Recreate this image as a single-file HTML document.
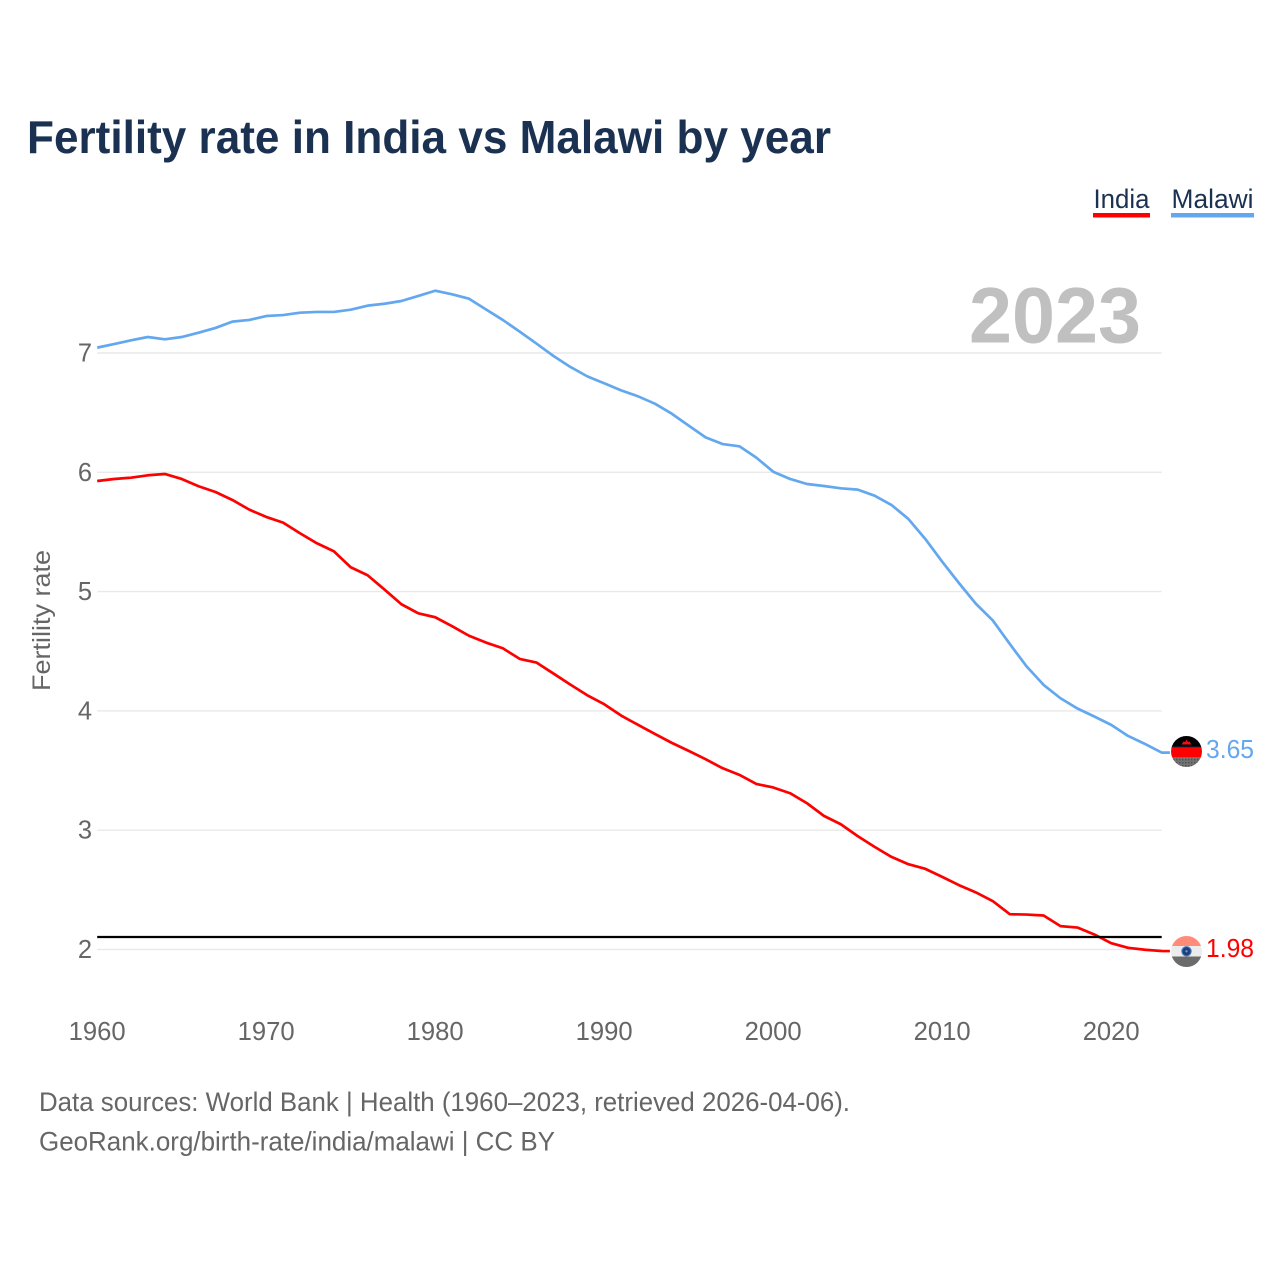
<!DOCTYPE html>
<html lang="en">
<head>
<meta charset="utf-8">
<title>Fertility rate in India vs Malawi by year</title>
<style>
html,body{margin:0;padding:0;background:#fff;}
svg{display:block;font-family:"Liberation Sans",Arial,sans-serif;}
</style>
</head>
<body>
<svg id="chart" xmlns="http://www.w3.org/2000/svg" width="1280" height="1280" viewBox="0 0 1280 1280">
  <rect width="1280" height="1280" fill="#fff"/>
  <text x="27" y="153" font-size="46" font-weight="700" fill="#1b3152" textLength="804" lengthAdjust="spacingAndGlyphs">Fertility rate in India vs Malawi by year</text>

  <g>
    <text x="1093.5" y="208" font-size="27" fill="#1b3152" textLength="56" lengthAdjust="spacingAndGlyphs">India</text>
    <rect x="1093" y="213" width="57" height="4.5" fill="#ff0000"/>
  </g>
  <g>
    <text x="1171.5" y="208" font-size="27" fill="#1b3152" textLength="82" lengthAdjust="spacingAndGlyphs">Malawi</text>
    <rect x="1171" y="213" width="83" height="4.5" fill="#63a8ef"/>
  </g>

  <text x="969" y="342.5" font-size="79" font-weight="700" fill="#c0c0c0" textLength="172" lengthAdjust="spacingAndGlyphs">2023</text>

  <g id="grid"></g>
  <g id="yticks"></g>
  <g id="xticks"></g>

  <text transform="translate(50,691) rotate(-90)" x="0" y="0" font-size="25" fill="#666" textLength="141" lengthAdjust="spacingAndGlyphs">Fertility rate</text>

  <g id="series"></g>

  <defs>
    <clipPath id="flag-clip-mw"><circle cx="1186.5" cy="751.5" r="15.5"/></clipPath>
    <clipPath id="flag-clip-in"><circle cx="1186.5" cy="951.5" r="15.5"/></clipPath>
    <pattern id="flag-dots" width="3" height="3" patternUnits="userSpaceOnUse">
      <rect width="3" height="3" fill="#747474"/>
      <rect width="1.4" height="1.4" fill="#4e4e4e"/>
    </pattern>
  </defs>

  <g clip-path="url(#flag-clip-mw)">
    <rect x="1170" y="735" width="33" height="12.5" fill="#000"/>
    <rect x="1170" y="746.6" width="33" height="1" fill="#1f3560"/>
    <rect x="1170" y="747.5" width="33" height="9.5" fill="#ff0000"/>
    <rect x="1170" y="757" width="33" height="12" fill="url(#flag-dots)"/>
    <path d="M1181.5 744.5 L1183.5 741.5 L1185.2 742 L1186.5 739.5 L1187.8 742 L1189.5 741.5 L1191.5 744.5 Z" fill="#f01010"/>
  </g>
  <g clip-path="url(#flag-clip-in)">
    <rect x="1170" y="935" width="33" height="11" fill="#ff8b78"/>
    <rect x="1170" y="946" width="33" height="10.5" fill="#ececec"/>
    <rect x="1170" y="956.5" width="33" height="12" fill="#6b6b6b"/>
    <circle cx="1186.5" cy="951.3" r="4.6" fill="#1d3f7a" stroke="#3f78c0" stroke-width="1.2"/>
    <circle cx="1186.5" cy="951.3" r="1.2" fill="#7f96bb"/>
  </g>

  <text x="1206" y="758" font-size="25.5" fill="#63a8ef" textLength="48" lengthAdjust="spacingAndGlyphs">3.65</text>
  <text x="1206" y="957" font-size="25.5" fill="#ff0000" textLength="48" lengthAdjust="spacingAndGlyphs">1.98</text>

  <text x="39" y="1111" font-size="27" fill="#666" textLength="811" lengthAdjust="spacingAndGlyphs">Data sources: World Bank | Health (1960–2023, retrieved 2026-04-06).</text>
  <text x="39" y="1150.5" font-size="27" fill="#666" textLength="516" lengthAdjust="spacingAndGlyphs">GeoRank.org/birth-rate/india/malawi | CC BY</text>
</svg>
<script>
const firstYear = 1960;
const yTickValues = [7, 6, 5, 4, 3, 2];
const xTickValues = [1960, 1970, 1980, 1990, 2000, 2010, 2020];
const replacementLevel = 2.105;
const indiaValues = [
  5.927, 5.944, 5.955, 5.975, 5.986, 5.944, 5.883, 5.835, 5.768, 5.687,
  5.626, 5.578, 5.489, 5.405, 5.338, 5.204, 5.137, 5.017, 4.894, 4.818,
  4.785, 4.71, 4.63, 4.573, 4.525, 4.436, 4.405, 4.313, 4.22, 4.131,
  4.056, 3.961, 3.883, 3.807, 3.732, 3.665, 3.595, 3.52, 3.464, 3.388,
  3.358, 3.31, 3.226, 3.12, 3.05, 2.95, 2.86, 2.776, 2.715, 2.676,
  2.609, 2.539, 2.478, 2.405, 2.296, 2.293, 2.285, 2.196, 2.184, 2.126,
  2.053, 2.014, 1.998, 1.987
];
const malawiValues = [
  7.045, 7.075, 7.106, 7.134, 7.115, 7.134, 7.17, 7.21, 7.263, 7.277,
  7.31, 7.318, 7.338, 7.344, 7.344, 7.363, 7.397, 7.413, 7.436, 7.478,
  7.522, 7.492, 7.455, 7.366, 7.277, 7.179, 7.078, 6.975, 6.883, 6.804,
  6.746, 6.687, 6.637, 6.575, 6.491, 6.391, 6.293, 6.237, 6.218, 6.123,
  6.005, 5.944, 5.902, 5.885, 5.866, 5.855, 5.804, 5.726, 5.609, 5.441,
  5.251, 5.07, 4.897, 4.757, 4.561, 4.372, 4.218, 4.106, 4.02, 3.953,
  3.883, 3.79, 3.723, 3.65
];

const NS = 'http://www.w3.org/2000/svg';
const plotLeft = 97.2;
const plotRight = 1161.7;
const xScale = function (year) { return plotLeft + (year - firstYear) * 16.9; };
const yScale = function (value) { return 353 + (7 - value) * 119.3; };

const gridGroup = document.getElementById('grid');
const yTickGroup = document.getElementById('yticks');
const xTickGroup = document.getElementById('xticks');
const seriesGroup = document.getElementById('series');

yTickValues.forEach(function (v) {
  const line = document.createElementNS(NS, 'line');
  line.setAttribute('x1', plotLeft);
  line.setAttribute('x2', plotRight);
  line.setAttribute('y1', yScale(v));
  line.setAttribute('y2', yScale(v));
  line.setAttribute('stroke', '#e9e9e9');
  line.setAttribute('stroke-width', '1.4');
  
  
  gridGroup.appendChild(line);

  const label = document.createElementNS(NS, 'text');
  label.setAttribute('x', 92);
  label.setAttribute('y', yScale(v) + 8.5);
  label.setAttribute('text-anchor', 'end');
  label.setAttribute('font-size', '25.5');
  label.setAttribute('fill', '#666');
  
  
  label.textContent = String(v);
  yTickGroup.appendChild(label);
});

xTickValues.forEach(function (year) {
  const label = document.createElementNS(NS, 'text');
  label.setAttribute('x', xScale(year) - 28.5);
  label.setAttribute('y', 1040);
  label.setAttribute('font-size', '25.5');
  label.setAttribute('fill', '#666');
  label.setAttribute('textLength', '57');
  label.setAttribute('lengthAdjust', 'spacingAndGlyphs');
  
  
  label.textContent = String(year);
  xTickGroup.appendChild(label);
});

function linePoints(values) {
  const pts = values.map(function (v, i) {
    return xScale(firstYear + i).toFixed(2) + ',' + yScale(v).toFixed(2);
  });
  const last = values[values.length - 1];
  pts.push((xScale(firstYear + values.length - 1) + 8).toFixed(2) + ',' + yScale(last).toFixed(2));
  return pts.join(' ');
}

const indiaLine = document.createElementNS(NS, 'polyline');
indiaLine.setAttribute('points', linePoints(indiaValues));
indiaLine.setAttribute('fill', 'none');
indiaLine.setAttribute('stroke', '#ff0000');
indiaLine.setAttribute('stroke-width', '2.7');
indiaLine.setAttribute('stroke-linejoin', 'round');


seriesGroup.appendChild(indiaLine);

const malawiLine = document.createElementNS(NS, 'polyline');
malawiLine.setAttribute('points', linePoints(malawiValues));
malawiLine.setAttribute('fill', 'none');
malawiLine.setAttribute('stroke', '#63a8ef');
malawiLine.setAttribute('stroke-width', '2.7');
malawiLine.setAttribute('stroke-linejoin', 'round');


seriesGroup.appendChild(malawiLine);

const refLine = document.createElementNS(NS, 'line');
refLine.setAttribute('x1', plotLeft);
refLine.setAttribute('x2', plotRight);
refLine.setAttribute('y1', yScale(replacementLevel));
refLine.setAttribute('y2', yScale(replacementLevel));
refLine.setAttribute('stroke', '#000');
refLine.setAttribute('stroke-width', '2.2');


seriesGroup.appendChild(refLine);
</script>
</body>
</html>
